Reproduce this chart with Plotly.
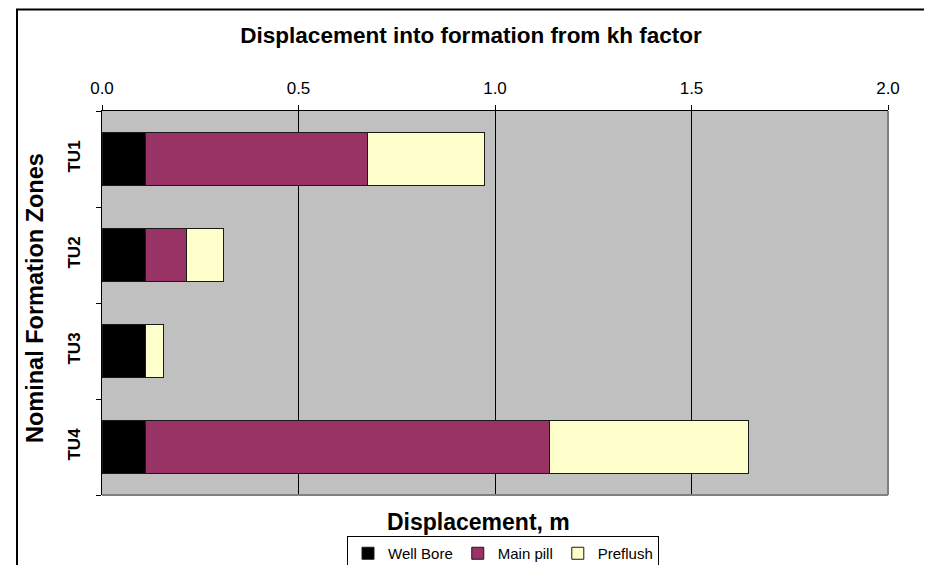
import plotly.graph_objects as go

zones = ["TU1", "TU2", "TU3", "TU4"]
well_bore = [0.11, 0.11, 0.11, 0.11]
main_pill = [0.565, 0.104, 0.0, 1.028]
preflush = [0.299, 0.095, 0.046, 0.506]
x_ticks = [0.0, 0.5, 1.0, 1.5, 2.0]

# The page body has an 8px default margin, so the figure is drawn smaller
# and all page positions below are shifted by OFF.
OFF = 8
W, H = 932 - OFF, 565 - OFF
ML, MR, MT = 102 - OFF, 44, 111 - OFF
MB = H - (495 - OFF)
PW, PH = W - ML - MR, H - MT - MB

def px_x(p):
    return (p - OFF - ML) / PW

def px_y(p):
    return (H - MB - (p - OFF)) / PH

FONT = "Liberation Sans, Arial, sans-serif"

fig = go.Figure()
for name, vals, col in [("Well Bore", well_bore, "#000000"),
                        ("Main pill", main_pill, "#993366"),
                        ("Preflush", preflush, "#FFFFCC")]:
    fig.add_trace(go.Bar(
        y=zones, x=vals, name=name, orientation="h",
        marker=dict(color=col, line=dict(color="#1a1a1a", width=1)),
    ))

fig.update_layout(
    width=W, height=H, barmode="stack", bargap=0.44,
    margin=dict(l=ML, r=MR, t=MT, b=MB, autoexpand=False),
    paper_bgcolor="white", plot_bgcolor="#C0C0C0",
    font=dict(family=FONT, color="black", size=17),
    title=dict(text="<b>Displacement into formation from kh factor</b>",
               font=dict(size=22.5, family=FONT, color="black"),
               xref="container", yref="container",
               x=(471 - OFF) / W, xanchor="center", y=1 - (35 - OFF) / H, yanchor="middle"),
    xaxis=dict(range=[0, 2], tickvals=x_ticks, ticktext=[f"{v:.1f}" for v in x_ticks],
               side="top", showgrid=True, gridcolor="black", gridwidth=1,
               zeroline=False, showline=True, linecolor="black", linewidth=1,
               ticks="outside", ticklen=5, tickcolor="black",
               tickfont=dict(size=17, family=FONT), ticklabelstandoff=4),
    yaxis=dict(categoryorder="array", categoryarray=zones, autorange="reversed",
               tickvals=zones, ticktext=[f"<b>{z}</b>" for z in zones],
               showgrid=False, zeroline=False, showline=True, linecolor="black",
               linewidth=1, ticks="outside", ticklen=5, tickcolor="black",
               tickson="boundaries", tickangle=-90,
               tickfont=dict(size=17, family=FONT), ticklabelstandoff=14),
    legend=dict(orientation="h", x=px_x(503), xanchor="center",
                y=px_y(536), yanchor="top", bordercolor="black", borderwidth=1,
                font=dict(size=15, family=FONT), itemwidth=30,
                tracegroupgap=0, traceorder="normal"),
    showlegend=True,
)

fig.add_annotation(text="<b>Displacement, m</b>", xref="paper", yref="paper",
                   x=px_x(478), y=px_y(522), showarrow=False,
                   font=dict(size=23, family=FONT), xanchor="center", yanchor="middle")
fig.add_annotation(text="<b>Nominal Formation Zones</b>", xref="paper", yref="paper",
                   x=px_x(35), y=px_y(298), showarrow=False, textangle=-90,
                   font=dict(size=23.5, family=FONT), xanchor="center", yanchor="middle")

# plot area border (gray, right & bottom)
fig.add_shape(type="line", xref="paper", yref="paper", x0=1, x1=1, y0=0, y1=1,
              line=dict(color="#808080", width=2), layer="above")
fig.add_shape(type="line", xref="paper", yref="paper", x0=0, x1=1, y0=0, y1=0,
              line=dict(color="#808080", width=2), layer="above")
# outer chart border
fig.add_shape(type="rect", xref="paper", yref="paper",
              x0=px_x(17), x1=px_x(929), y0=px_y(600), y1=px_y(9.5),
              line=dict(color="black", width=2), fillcolor="rgba(0,0,0,0)", layer="above")

fig.write_html("out.html")
